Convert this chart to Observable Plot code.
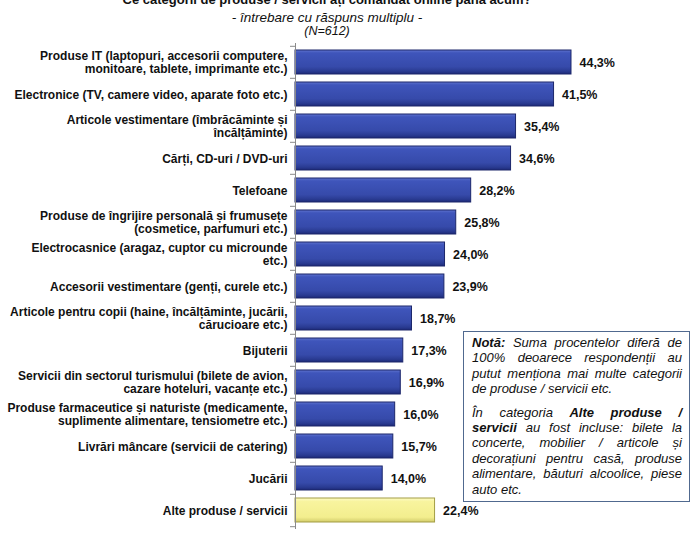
<!DOCTYPE html>
<html><head><meta charset="utf-8">
<script src="https://cdn.jsdelivr.net/npm/d3@7"></script>
<script src="https://cdn.jsdelivr.net/npm/@observablehq/plot@0.6"></script>
<style>
body{margin:0;background:#fff;font-family:"Liberation Sans",Arial,sans-serif;}
#wrap{position:relative;width:690px;height:533px;overflow:hidden;}
.t{position:absolute;left:0;width:654px;text-align:center;color:#111;}
#note{position:absolute;left:463px;top:331px;width:210px;height:164px;border:1.5px solid #50698f;padding:3px 7px 2px 8px;font-style:italic;font-size:13px;line-height:15.4px;color:#111;background:#fff;}
#note .j{display:block;text-align:justify;text-align-last:justify;white-space:nowrap;}
#note .l{display:block;text-align:left;white-space:nowrap;}
#note .gap{display:block;height:8px;}
</style></head><body>
<div id="wrap">
<div class="t" style="top:-8px;font-weight:bold;font-size:13px;">Ce categorii de produse / servicii ați comandat online până acum?</div>
<div class="t" style="top:10px;font-style:italic;font-size:13.5px;">- întrebare cu răspuns multiplu -</div>
<div class="t" style="top:24px;font-style:italic;font-size:12.5px;">(N=612)</div>
<div id="chart" style="position:absolute;left:0;top:0;"></div>
<div id="note"><span class="j"><b>Notă:</b> Suma procentelor diferă de</span><span class="j">100% deoarece respondenții au</span><span class="j">putut menționa mai multe categorii</span><span class="l">de produse / servicii etc.</span><span class="gap"></span><span class="j">În categoria <b>Alte produse /</b></span><span class="j"><b>servicii</b> au fost incluse: bilete la</span><span class="j">concerte, mobilier / articole și</span><span class="j">decorațiuni pentru casă, produse</span><span class="j">alimentare, băuturi alcoolice, piese</span><span class="l">auto etc.</span></div>
</div>
<script>
const categories = [
  "Produse IT (laptopuri, accesorii computere,\nmonitoare, tablete, imprimante etc.)",
  "Electronice (TV, camere video, aparate foto etc.)",
  "Articole vestimentare (îmbrăcăminte și\nîncălțăminte)",
  "Cărți, CD-uri / DVD-uri",
  "Telefoane",
  "Produse de îngrijire personală și frumusețe\n(cosmetice, parfumuri etc.)",
  "Electrocasnice (aragaz, cuptor cu microunde\netc.)",
  "Accesorii vestimentare (genți, curele etc.)",
  "Articole pentru copii (haine, încălțăminte, jucării,\ncărucioare etc.)",
  "Bijuterii",
  "Servicii din sectorul turismului (bilete de avion,\ncazare hoteluri, vacanțe etc.)",
  "Produse farmaceutice și naturiste (medicamente,\nsuplimente alimentare, tensiometre etc.)",
  "Livrări mâncare (servicii de catering)",
  "Jucării",
  "Alte produse / servicii"
];
const values = [44.3, 41.5, 35.4, 34.6, 28.2, 25.8, 24.0, 23.9, 18.7, 17.3, 16.9, 16.0, 15.7, 14.0, 22.4];
const groups = ["main","main","main","main","main","main","main","main","main","main","main","main","main","main","other"];

const data = categories.map((c,i)=>({cat:c, v:values[i], g:groups[i]}));
const fmt = v => v.toFixed(1).replace(".", ",") + "%";
const step = (529-43)/categories.length;

const plot = Plot.plot({
  width: 690, height: 533,
  marginTop: 43, marginBottom: 4, marginLeft: 295, marginRight: 83.5,
  style: {fontFamily: '"Liberation Sans", Arial, sans-serif', fontSize: "12px", color: "#111", overflow: "visible"},
  x: {domain: [0, 50], axis: null},
  y: {domain: categories, paddingInner: 0.25, paddingOuter: 0.125, label: null},
  color: {domain: ["main","other"], range: ["url(#gBlue)", "url(#gYellow)"]},
  marks: [
    Plot.barX(data, {x: "v", y: "cat", fill: "g", stroke: d => d.g === "main" ? "#1c276b" : "#a39d45", strokeWidth: 1}),
    Plot.text(data, {x: "v", y: "cat", text: d => fmt(d.v), textAnchor: "start", dx: 8, fontWeight: "bold", fontSize: 12.5, fill: "#111"}),
    Plot.ruleX([0], {stroke: "#8a8a8a", strokeWidth: 1}),
    Plot.axisY({tickSize: 0, tickPadding: 8, fontWeight: "bold", fontSize: 12, lineHeight: 1.1, fill: "#111", textAnchor: "end"}),
    Plot.axisY({tickSize: 5, tickFormat: () => "", dy: -step/2, stroke: "#8a8a8a"}),
    Plot.axisY([categories[categories.length-1]], {tickSize: 5, tickFormat: () => "", dy: step/2, stroke: "#8a8a8a"})
  ]
});

const svg = d3.select(plot);
const defs = svg.insert("defs", ":first-child");
const gb = defs.append("linearGradient").attr("id","gBlue").attr("x1",0).attr("y1",0).attr("x2",0).attr("y2",1);
[[0,"#6075d0"],[0.12,"#3f55bb"],[0.7,"#364aaa"],[0.88,"#2a3b92"],[1,"#1d2a78"]].forEach(([o,c])=>gb.append("stop").attr("offset",o).attr("stop-color",c));
const gy = defs.append("linearGradient").attr("id","gYellow").attr("x1",0).attr("y1",0).attr("x2",0).attr("y2",1);
[[0,"#fdfbc6"],[0.15,"#f8f49e"],[0.8,"#f3ee8e"],[1,"#d2cc6a"]].forEach(([o,c])=>gy.append("stop").attr("offset",o).attr("stop-color",c));

document.getElementById("chart").appendChild(plot);
</script>
</body></html>
